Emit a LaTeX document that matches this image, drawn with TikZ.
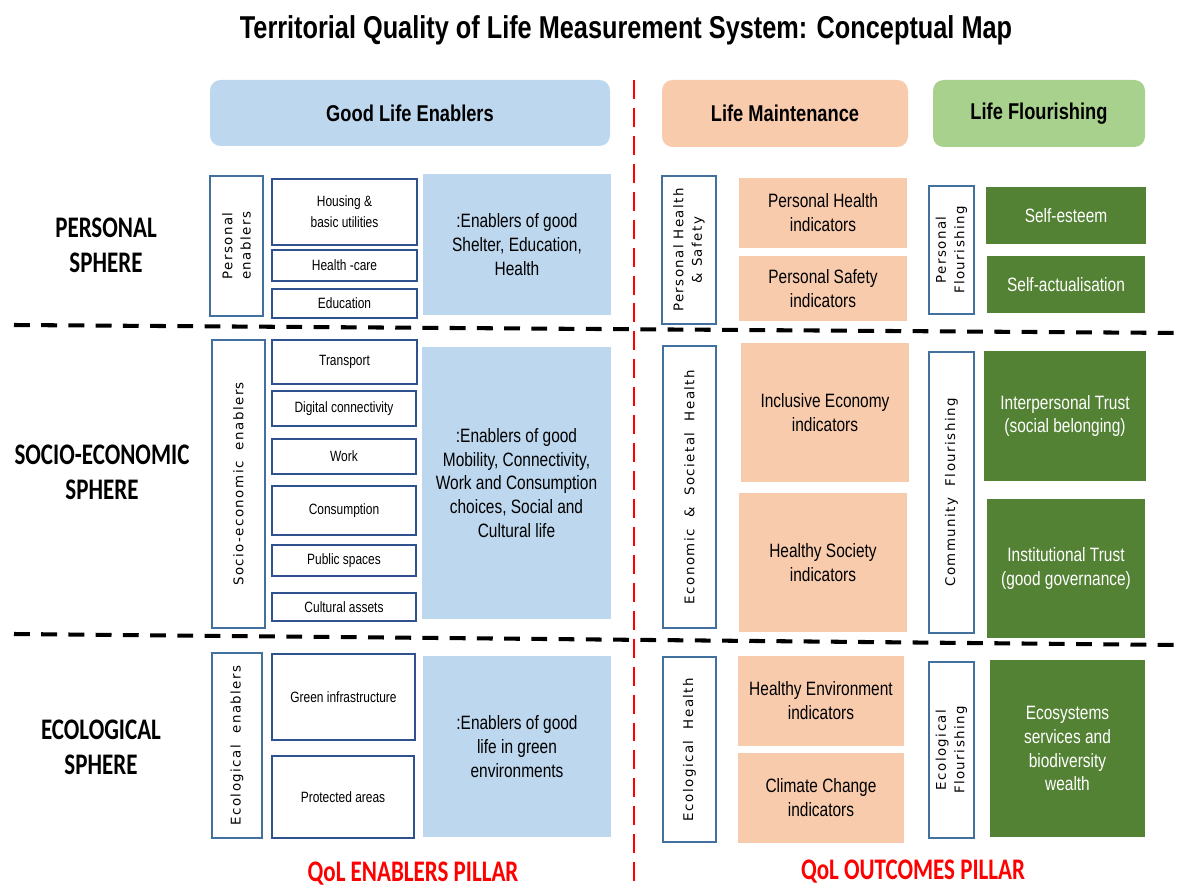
\documentclass[tikz,border=0pt]{standalone}
\usepackage{fontspec}
\setmainfont{Liberation Sans}
\newfontfamily\narrowfont{Liberation Sans}[FakeStretch=0.8]
\newfontfamily\spherefont{Carlito}[FakeStretch=0.77]
\newfontfamily\vertfont{DejaVu Sans}[LetterSpace=11]
\usetikzlibrary{fit}
\definecolor{enabblue}{HTML}{BDD7EE}
\definecolor{maintorange}{HTML}{F8CBAD}
\definecolor{headgreen}{HTML}{A9D18E}
\definecolor{flourgreen}{HTML}{548235}
\definecolor{boxline}{HTML}{41719C}
\definecolor{itemline}{HTML}{2F528F}
\definecolor{pillarred}{HTML}{FF0000}
\begin{document}
\begin{tikzpicture}[
        x=0.02cm, y=-0.02cm,
        every node/.style={inner sep=0pt, align=center},
        header/.style={rounded corners=6pt},
        headtext/.style={font=\narrowfont\bfseries\fontsize{13}{15}\selectfont},
        sidebox/.style={draw=boxline, line width=0.6pt, fill=white},
        sidetext/.style={rotate=90, font=\vertfont\fontsize{7.6}{10.5}\selectfont},
        itembox/.style={draw=itemline, line width=0.8pt},
        itemtext/.style={font=\narrowfont\fontsize{8.5}{12}\selectfont},
        enabbox/.style={fill=enabblue},
        maintbox/.style={fill=maintorange},
        flourbox/.style={fill=flourgreen},
        boxtext/.style={font=\narrowfont\fontsize{11}{13.6}\selectfont},
        flourtext/.style={boxtext, text=white},
        sphere/.style={font=\spherefont\bfseries\fontsize{17}{20}\selectfont},
        pillar/.style={anchor=base, font=\spherefont\bfseries\fontsize{17}{20}\selectfont, text=pillarred},
        separator/.style={line width=2.3pt, dash pattern=on 9pt off 6.5pt},
        pillarline/.style={draw=pillarred, line width=1.7pt, dash pattern=on 10.8pt off 5.1pt}
    ]
    \useasboundingbox (0,0) rectangle (1181,888);

    \node[font=\narrowfont\bfseries\fontsize{18}{21}\selectfont] (title) at (626,30)
        {Territorial Quality of Life Measurement System: Conceptual Map};

    % column headers
    \node[header, fill=enabblue, fit={(210,80) (610,146)}] (hdrenab) {};
    \node[headtext] at (hdrenab) {Good Life Enablers};
    \node[header, fill=maintorange, fit={(662,80) (908,147)}] (hdrmaint) {};
    \node[headtext] at (hdrmaint) {Life Maintenance};
    \node[header, fill=headgreen, fit={(933,80) (1145,147)}] (hdrflour) {};
    \node[headtext] at (hdrflour) {Life Flourishing};

    % personal sphere
    \node[sphere] (sphpers) at (106,245) {PERSONAL\\SPHERE};
    \node[sidebox, fit={(210,176) (263,316)}] (sidepers) {};
    \node[sidetext] at (sidepers) {Personal\\enablers};
    \node[itembox, fit={(272,179) (417,245)}] (housing) {};
    \node[itemtext] at (housing) {Housing \&\\basic utilities};
    \node[itembox, fit={(272,250) (417,281)}] (healthcare) {};
    \node[itemtext] at (healthcare) {Health -care};
    \node[itembox, fit={(272,289) (417,318)}] (educ) {};
    \node[itemtext] at (educ) {Education};
    \node[enabbox, fit={(423,174) (611,315)}] (enabpers) {};
    \node[boxtext] at (enabpers) {:Enablers of good\\Shelter, Education,\\Health};
    \node[sidebox, fit={(662,176) (716,324)}] (sidephs) {};
    \node[sidetext] at (sidephs) {Personal Health\\\& Safety};
    \node[maintbox, fit={(739,178) (907,248)}] (perhealth) {};
    \node[boxtext] at (perhealth) {Personal Health\\indicators};
    \node[maintbox, fit={(739,256) (907,321)}] (persafety) {};
    \node[boxtext] at (persafety) {Personal Safety\\indicators};
    \node[sidebox, fit={(929,186) (974,314)}] (sidepflour) {};
    \node[sidetext] at (sidepflour) {Personal\\Flourishing};
    \node[flourbox, fit={(986,187) (1146,244)}] (selfest) {};
    \node[flourtext] at (selfest) {Self-esteem};
    \node[flourbox, fit={(987,256) (1145,313)}] (selfact) {};
    \node[flourtext] at (selfact) {Self-actualisation};

    % socio-economic sphere
    \node[sphere] (sphsocio) at (102,472) {SOCIO-ECONOMIC\\SPHERE};
    \node[sidebox, fit={(212,340) (265,628)}] (sidesocio) {};
    \node[sidetext] at (sidesocio) {Socio-economic\ \ enablers};
    \node[itembox, fit={(272,340) (417,384)}] (transport) {};
    \node[itemtext] at (transport) {Transport};
    \node[itembox, fit={(272,391) (416,426)}] (digital) {};
    \node[itemtext] at (digital) {Digital connectivity};
    \node[itembox, fit={(272,439) (416,474)}] (work) {};
    \node[itemtext] at (work) {Work};
    \node[itembox, fit={(272,486) (416,535)}] (consump) {};
    \node[itemtext] at (consump) {Consumption};
    \node[itembox, fit={(272,545) (416,576)}] (public) {};
    \node[itemtext] at (public) {Public spaces};
    \node[itembox, fit={(272,593) (416,621)}] (cultural) {};
    \node[itemtext] at (cultural) {Cultural assets};
    \node[enabbox, fit={(422,347) (611,619)}] (enabsocio) {};
    \node[boxtext] at (enabsocio)
        {:Enablers of good\\Mobility, Connectivity,\\Work and Consumption\\choices, Social and\\Cultural life};
    \node[sidebox, fit={(663,346) (716,628)}] (sideecon) {};
    \node[sidetext] at (sideecon) {Economic\ \ \&\ \ Societal\ \ Health};
    \node[maintbox, fit={(741,343) (909,482)}] (inclecon) {};
    \node[boxtext] at (inclecon) {Inclusive Economy\\indicators};
    \node[maintbox, fit={(739,493) (907,632)}] (healthsoc) {};
    \node[boxtext] at (healthsoc) {Healthy Society\\indicators};
    \node[sidebox, fit={(929,352) (974,633)}] (sidecomm) {};
    \node[sidetext] at (sidecomm) {Community\ \ Flourishing};
    \node[flourbox, fit={(984,351) (1146,481)}] (intertrust) {};
    \node[flourtext] at (intertrust) {Interpersonal Trust\\(social belonging)};
    \node[flourbox, fit={(987,499) (1145,638)}] (insttrust) {};
    \node[flourtext] at (insttrust) {Institutional Trust\\(good governance)};

    % ecological sphere
    \node[sphere] (spheco) at (101,747) {ECOLOGICAL\\SPHERE};
    \node[sidebox, fit={(212,653) (262,838)}] (sideeco) {};
    \node[sidetext] at (sideeco) {Ecological\ \ enablers};
    \node[itembox, fit={(272,654) (415,740)}] (greeninf) {};
    \node[itemtext] at (greeninf) {Green infrastructure};
    \node[itembox, fit={(272,756) (414,838)}] (protect) {};
    \node[itemtext] at (protect) {Protected areas};
    \node[enabbox, fit={(423,656) (611,837)}] (enabeco) {};
    \node[boxtext] at (enabeco) {:Enablers of good\\life in green\\environments};
    \node[sidebox, fit={(663,657) (716,842)}] (sideecoh) {};
    \node[sidetext] at (sideecoh) {Ecological\ \ Health};
    \node[maintbox, fit={(738,656) (904,746)}] (healthenv) {};
    \node[boxtext] at (healthenv) {Healthy Environment\\indicators};
    \node[maintbox, fit={(738,753) (904,843)}] (climate) {};
    \node[boxtext] at (climate) {Climate Change\\indicators};
    \node[sidebox, fit={(929,662) (974,838)}] (sideecof) {};
    \node[sidetext] at (sideecof) {Ecological\\Flourishing};
    \node[flourbox, fit={(990,660) (1145,837)}] (ecosys) {};
    \node[flourtext] at (ecosys) {Ecosystems\\services and\\biodiversity\\wealth};

    % pillars
    \node[pillar] (pilenab) at (413,881) {QoL ENABLERS PILLAR};
    \node[pillar] (pilout) at (913,879) {QoL OUTCOMES PILLAR};

    % separators
    \draw[separator] (14,325) -- (1181,333);
    \draw[separator] (14,634) -- (1181,645);
    \draw[pillarline] (634,80) -- (634,888);
\end{tikzpicture}
\end{document}
